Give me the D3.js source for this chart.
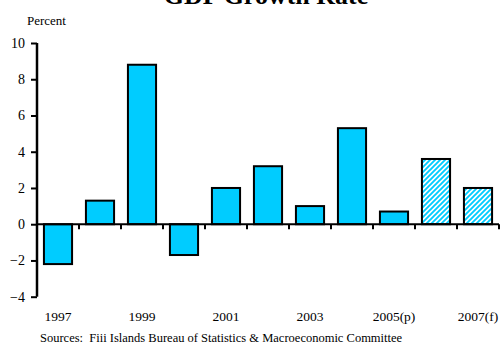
<!DOCTYPE html>
<html>
<head>
<meta charset="utf-8">
<script src="https://cdn.jsdelivr.net/npm/d3@7/dist/d3.min.js"></script>
<style>
  html, body { margin: 0; padding: 0; background: #fff; }
  svg { display: block; }
  text { font-family: "Liberation Serif", "Times New Roman", serif; fill: #000; }
</style>
</head>
<body>
<script>
// GDP growth, annual percent change
const years = ["1997", "1998", "1999", "2000", "2001", "2002", "2003", "2004", "2005", "2006", "2007"];
const growth = [-2.2, 1.3, 8.8, -1.7, 2.0, 3.2, 1.0, 5.3, 0.7, 3.6, 2.0];
const projected = [false, false, false, false, false, false, false, false, false, true, true];
const yearLabels = ["1997", "", "1999", "", "2001", "", "2003", "", "2005(p)", "", "2007(f)"];
const yTicks = [-4, -2, 0, 2, 4, 6, 8, 10];

const W = 500, H = 345;
const plotLeft = 37, plotRight = 499, plotTop = 43, plotBottom = 296.7;
const fill = "#00CCFF";

const svg = d3.select("body").append("svg").attr("width", W).attr("height", H);

// diagonal stripe fill for projected years
const pat = svg.append("defs").append("pattern")
  .attr("id", "stripes").attr("patternUnits", "userSpaceOnUse")
  .attr("width", 5).attr("height", 5);
pat.append("rect").attr("width", 5).attr("height", 5).attr("fill", "#fff");
pat.append("path")
  .attr("d", "M0,5 L5,0 M-1,1 L1,-1 M4,6 L6,4")
  .attr("stroke", fill).attr("stroke-width", 1.9);

const x = d3.scaleBand().domain(years).range([plotLeft, plotRight])
  .paddingInner(0.33).paddingOuter(0.165);
const y = d3.scaleLinear().domain([-4, 10]).range([plotBottom, plotTop]);

// bars
svg.append("g").selectAll("rect").data(years).join("rect")
  .attr("x", d => x(d))
  .attr("width", x.bandwidth())
  .attr("y", (d, i) => y(Math.max(0, growth[i])))
  .attr("height", (d, i) => Math.abs(y(growth[i]) - y(0)))
  .attr("fill", (d, i) => projected[i] ? "url(#stripes)" : fill)
  .attr("stroke", "#000").attr("stroke-width", 2);

// y axis
const yAxis = svg.append("g").attr("transform", `translate(${plotLeft},0)`)
  .call(d3.axisLeft(y).tickValues(yTicks).tickSize(6).tickPadding(6).tickFormat(d3.format("d")));
yAxis.attr("font-family", null);
yAxis.select(".domain").attr("stroke", "#000").attr("stroke-width", 2.5).attr("d", `M0,${plotTop}V${plotBottom}`);
yAxis.selectAll(".tick line").attr("stroke", "#000").attr("stroke-width", 2);
yAxis.selectAll(".tick text")
  .style("font-family", "Liberation Serif, serif").style("font-size", "14px").attr("fill", "#000");

// zero line with ticks between categories
const step = x.step();
const bounds = d3.range(1, years.length + 1).map(i => plotLeft + i * step);
const zeroG = svg.append("g");
zeroG.append("line")
  .attr("x1", plotLeft).attr("x2", plotRight)
  .attr("y1", y(0)).attr("y2", y(0))
  .attr("stroke", "#000").attr("stroke-width", 2);
zeroG.selectAll("line.tk").data(bounds).join("line").attr("class", "tk")
  .attr("x1", d => d).attr("x2", d => d)
  .attr("y1", y(0)).attr("y2", y(0) + 5)
  .attr("stroke", "#000").attr("stroke-width", 2);

// category labels along the bottom
svg.append("g").selectAll("text").data(years).join("text")
  .attr("x", d => x(d) + x.bandwidth() / 2)
  .attr("y", 321)
  .attr("text-anchor", "middle")
  .style("font-size", "13.5px")
  .text((d, i) => yearLabels[i]);

// titles and notes
svg.append("text").attr("x", 266).attr("y", 4).attr("text-anchor", "middle")
  .style("font-size", "26px").style("font-weight", "bold").text("GDP Growth Rate");
svg.append("text").attr("x", 27).attr("y", 25).style("font-size", "13px").text("Percent");
svg.append("text").attr("x", 40).attr("y", 342).style("font-size", "12.5px")
  .attr("xml:space", "preserve")
  .text("Sources:  Fiii Islands Bureau of Statistics & Macroeconomic Committee");
</script>
</body>
</html>
